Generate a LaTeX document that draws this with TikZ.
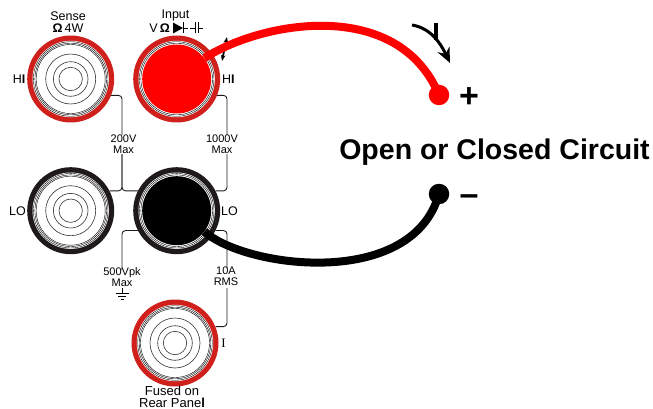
\documentclass[tikz,border=0pt]{standalone}
\usepackage{fontspec}
\usepackage{xcolor}
\setmainfont{Liberation Sans}
\usetikzlibrary{arrows.meta,calc}
\definecolor{jackred}{RGB}{208,32,28}
\definecolor{jackblk}{RGB}{30,26,26}
\newfontfamily\lblserif{Liberation Serif}

\begin{document}
\begin{tikzpicture}[x=1pt,y=-1pt,
  jack/.style={circle, minimum size=87pt, inner sep=0pt},
  core/.style={circle, minimum size=69pt, inner sep=0pt},
  lbl/.style={align=center, inner sep=0pt, font=\fontsize{11}{10.5}\selectfont},
  lblbig/.style={align=center, inner sep=0pt, font=\fontsize{12.5}{12}\selectfont},
  wire/.style={line width=0.9pt, rounded corners=3.5pt, draw=jackblk},
  lead/.style={line width=8pt},
  >={Stealth}]
\useasboundingbox (0,0) rectangle (653,409);

% jacks
\node[jack, fill=jackred] (sh) at (70.7,79) {};
\node[jack, fill=jackred] (ih) at (176.7,79) {};
\node[jack, fill=jackblk] (sl) at (70.7,210.7) {};
\node[jack, fill=jackblk] (il) at (176.7,210.7) {};
\node[jack, fill=jackred] (cur) at (175,343) {};
\foreach \j in {sh,ih,sl,il,cur} {
  \fill[white] (\j) circle (38.2);
  \draw[line width=0.4pt] (\j) circle (37.3);
  \draw[line width=0.4pt] (\j) circle (35.8);
}
\foreach \j in {sh,sl,cur} {
  \node[core, fill=white, draw=black, line width=0.4pt] (\j core) at (\j) {};
  \foreach \r in {25,17.3,11.7}
    \draw[line width=0.6pt, draw=black!80] (\j) circle (\r);
}
\node[core, fill=red] (ih core) at (ih) {};
\node[core, fill=black] (il core) at (il) {};

% labels
\node[lblbig] (sns) at (68,22) {Sense\\{\bfseries Ω}\,4W};
\node[lblbig] (inp) at (175.5,15) {Input};
\node[lblbig, anchor=east] (vo) at (170,28) {V\,{\bfseries Ω}};
\node[lbl] (v200) at (123.5,144) {200V\\Max};
\node[lbl] (v1000) at (222,144) {1000V\\Max};
\node[lbl] (v500) at (122,277) {500Vpk\\Max};
\node[lbl] (a10) at (226,276) {10A\\RMS};
\node[lblbig, anchor=east] (hs) at (25.5,79) {H{\bfseries I}};
\node[lblbig, anchor=west] (hi) at (222,79) {H{\bfseries I}};
\node[lblbig, anchor=east] (ls) at (26,211) {LO};
\node[lblbig, anchor=west] (li) at (221,211) {LO};
\node[lbl, font=\lblserif\fontsize{13}{13}\selectfont] (ci) at (223.5,343) {I};
\node[lbl, font=\fontsize{13}{11.5}\selectfont] (fus) at (172,397) {Fused on\\Rear Pane{\bfseries l}};
\node[inner sep=0pt, font=\bfseries\fontsize{28.5}{30}\selectfont] (ttl) at (494.5,152) {Open or Closed Circuit};

% thin wires
\coordinate (v2t) at (122,135);
\coordinate (v2b) at (122,154);
\coordinate (v1t) at (227,135);
\coordinate (v1b) at (227,154);
\coordinate (v5t) at (122,270);
\coordinate (a1t) at (227,268);
\coordinate (a1b) at (227,288);
\draw[wire] (sh.-22) -| (v2t);
\draw[wire] (ih.-22) -| (v1t);
\draw[wire] (v2b) |- (sl.27);
\draw[wire] (v2b) |- (il.153);
\draw[wire] (v1b) |- (il.27);
\draw[wire] (il.207) -| (v5t);
\draw[wire] (il.-27) -| (a1t);
\draw[wire] (a1b) |- (cur.22);

% ground
\coordinate (gnd) at (122,288);
\draw[line width=0.7pt] (gnd) -- ++(0,5);
\draw[line width=0.7pt] ($(gnd)+(-6.5,5)$) -- ++(13,0);
\draw[line width=0.7pt] ($(gnd)+(-4,8)$) -- ++(8,0);
\draw[line width=0.7pt] ($(gnd)+(-1.5,11)$) -- ++(3,0);

% diode and capacitor
\fill (173,22.5) -- (183,28) -- (173,33.5) -- cycle;
\draw[line width=0.7pt] (183,22.5) -- (183,33.5);
\draw[line width=0.7pt] (183,28) -- (188,28);
\draw[line width=0.7pt] (190,28) -- (195.5,28);
\draw[line width=0.7pt] (195.5,22.5) -- (195.5,33.5);
\draw[line width=0.7pt] (198,22.5) -- (198,33.5);
\draw[line width=0.7pt] (198,28) -- (203,28);

% small switch mark on the input jack
\draw[line width=1.8pt, {Stealth[length=6pt]}-{Stealth[length=6pt]}] (227,37) -- (222,61);

% terminals and leads
\node[circle, fill=red, minimum size=20.5pt, inner sep=0pt] (pos) at (439,95) {};
\node[circle, fill=black, minimum size=20.5pt, inner sep=0pt] (neg) at (439,194) {};
\draw[lead, red] (ih core.37) .. controls (262,21) and (398,-3) .. (pos.center);
\draw[lead, black] (il core.-37) .. controls (245,268) and (412,290) .. (neg.center);
\node[inner sep=0pt, font=\bfseries\fontsize{34}{34}\selectfont] (plus) at (469,98) {+};
\node[inner sep=0pt, font=\bfseries\fontsize{34}{34}\selectfont] (minus) at (469,200) {–};

% switch arrow
\coordinate (sw) at (436,23);
\draw[line width=4pt] (sw) -- ++(0,17);
\draw[line width=3pt, -{Stealth[length=15pt,width=13pt]}] (412,25) .. controls (430,28) and (440,42) .. (450,63);
\end{tikzpicture}
\end{document}
